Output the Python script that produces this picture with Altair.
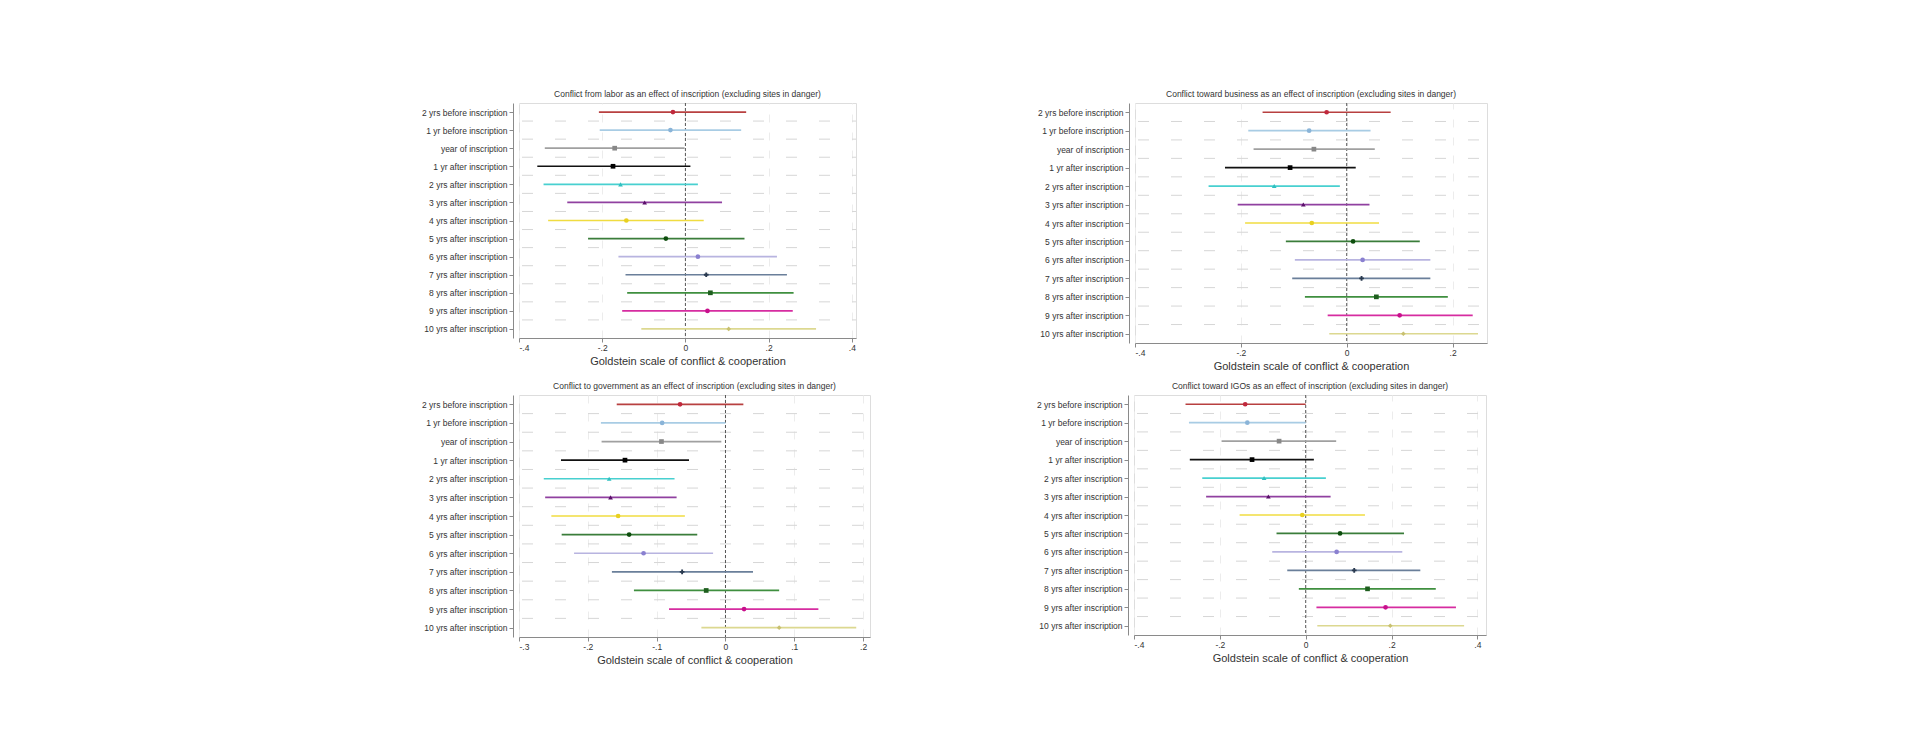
import json
import altair as alt
import pandas as pd

row_labels = [
    "2 yrs before inscription", "1 yr before inscription", "year of inscription",
    "1 yr after inscription", "2 yrs after inscription", "3 yrs after inscription",
    "4 yrs after inscription", "5 yrs after inscription", "6 yrs after inscription",
    "7 yrs after inscription", "8 yrs after inscription", "9 yrs after inscription",
    "10 yrs after inscription",
]

# Panel 1: conflict from labor
labor_est = [-0.030, -0.036, -0.170, -0.174, -0.156, -0.098, -0.142, -0.047, 0.030, 0.050, 0.060, 0.053, 0.104]
labor_lo = [-0.208, -0.206, -0.338, -0.356, -0.341, -0.284, -0.330, -0.234, -0.161, -0.144, -0.140, -0.152, -0.106]
labor_hi = [0.146, 0.134, -0.002, 0.012, 0.030, 0.088, 0.044, 0.142, 0.220, 0.244, 0.260, 0.258, 0.314]

# Panel 2: conflict toward business
business_est = [-0.038, -0.071, -0.062, -0.107, -0.137, -0.082, -0.066, 0.012, 0.030, 0.028, 0.056, 0.100, 0.107]
business_lo = [-0.159, -0.186, -0.176, -0.230, -0.261, -0.206, -0.192, -0.115, -0.098, -0.103, -0.079, -0.036, -0.033]
business_hi = [0.083, 0.045, 0.053, 0.017, -0.013, 0.043, 0.061, 0.138, 0.158, 0.158, 0.191, 0.238, 0.248]

# Panel 3: conflict to government
gov_est = [-0.066, -0.092, -0.093, -0.146, -0.169, -0.167, -0.156, -0.140, -0.119, -0.063, -0.028, 0.027, 0.078]
gov_lo = [-0.158, -0.181, -0.180, -0.239, -0.264, -0.262, -0.253, -0.238, -0.220, -0.165, -0.133, -0.082, -0.035]
gov_hi = [0.026, 0.000, -0.006, -0.053, -0.074, -0.071, -0.059, -0.041, -0.018, 0.040, 0.078, 0.135, 0.190]

# Panel 4: conflict toward IGOs
igo_est = [-0.141, -0.136, -0.062, -0.125, -0.097, -0.087, -0.008, 0.080, 0.072, 0.113, 0.144, 0.186, 0.197]
igo_lo = [-0.280, -0.272, -0.196, -0.270, -0.241, -0.232, -0.154, -0.068, -0.078, -0.043, -0.016, 0.025, 0.027]
igo_hi = [0.000, 0.000, 0.071, 0.019, 0.047, 0.058, 0.138, 0.229, 0.225, 0.267, 0.303, 0.350, 0.369]

titles = [
    "Conflict from labor as an effect of inscription (excluding sites in danger)",
    "Conflict toward business as an effect of inscription (excluding sites in danger)",
    "Conflict to government as an effect of inscription (excluding sites in danger)",
    "Conflict toward IGOs as an effect of inscription (excluding sites in danger)",
]
x_title = "Goldstein scale of conflict & cooperation"

ticks_a = [-0.4, -0.2, 0, 0.2, 0.4]
labels_a = ["-.4", "-.2", "0", ".2", ".4"]
ticks_b = [-0.4, -0.2, 0, 0.2]
labels_b = ["-.4", "-.2", "0", ".2"]
ticks_c = [-0.3, -0.2, -0.1, 0, 0.1, 0.2]
labels_c = ["-.3", "-.2", "-.1", "0", ".1", ".2"]

# styles per row
line_colors = ["#b84040", "#a8cce4", "#a0a0a0", "#111111", "#48d0d0", "#9040a0", "#f0dc40",
               "#3a7d3a", "#b8b4e0", "#6a7f9a", "#3f8f3f", "#d62ca0", "#dcd890"]
point_colors = ["#c0283c", "#8ab4d8", "#888888", "#000000", "#30c0c0", "#5a0f6a", "#e8d020",
                "#0d4d0d", "#8a80d0", "#2a3a50", "#1e5e1e", "#c8108c", "#c8c070"]
point_shapes = ["circle", "circle", "square", "square", "triangle-up", "triangle-up", "circle",
                "circle", "circle", "cross", "square", "circle", "diamond"]
point_sizes = [22, 22, 22, 38, 22, 36, 32, 36, 48, 16, 24, 32, 20]

FONT = "Liberation Sans"
TXT = "#333333"


def panel(title, est, lo, hi, xdom, xticks, xlabels, w, h):
    df = pd.DataFrame({"row": list(range(len(row_labels))), "label": row_labels,
                       "est": est, "lo": lo, "hi": hi})
    ysc = alt.Scale(domain=[-0.5, len(row_labels) - 0.5], reverse=True, nice=False, zero=False)
    xsc = alt.Scale(domain=xdom, nice=False, zero=False)
    yax = alt.Axis(values=list(range(len(row_labels))),
                   labelExpr=f"{json.dumps(row_labels)}[datum.value]",
                   grid=False, title=None, offset=6, tickSize=4, labelPadding=2,
                   domainColor="#8a8a8a", tickColor="#8a8a8a", labelFontSize=8.5,
                   labelColor=TXT, labelFont=FONT)
    xax = alt.Axis(values=xticks,
                   labelExpr=f"{json.dumps(xlabels)}[indexof({json.dumps(xticks)}, datum.value)]",
                   title=x_title, titleFontSize=11, titleFontWeight="normal", titleColor=TXT,
                   titleFont=FONT, titlePadding=4,
                   grid=True, gridColor="#ececec", gridDash=[8, 10], gridWidth=1,
                   tickSize=4, labelPadding=1, domainColor="#8a8a8a", tickColor="#8a8a8a",
                   labelFontSize=8.5, labelColor=TXT, labelFont=FONT)
    base = alt.Chart(df)
    grid_h = base.transform_filter(f"datum.row < {len(row_labels) - 1}").transform_calculate(
        mid="datum.row + 0.5").mark_rule(color="#d6d6d6", strokeDash=[11, 22], strokeWidth=1).encode(
        y=alt.Y("mid:Q", scale=ysc, axis=yax), x=alt.value(3), x2=alt.value(w))
    zero = alt.Chart(pd.DataFrame({"ref": [0]})).mark_rule(
        color="#555555", strokeDash=[3, 2], strokeWidth=1).encode(
        x=alt.X("ref:Q", scale=xsc, axis=xax), y=alt.value(0), y2=alt.value(h))
    ci = base.mark_rule(strokeWidth=1.7).encode(
        x=alt.X("lo:Q", scale=xsc, axis=xax), x2="hi:Q",
        y=alt.Y("row:Q", scale=ysc, axis=yax),
        stroke=alt.Stroke("label:N", scale=alt.Scale(domain=row_labels, range=line_colors), legend=None))
    pts = base.mark_point(filled=True, opacity=1).encode(
        x=alt.X("est:Q", scale=xsc, axis=xax),
        y=alt.Y("row:Q", scale=ysc, axis=yax),
        fill=alt.Fill("label:N", scale=alt.Scale(domain=row_labels, range=point_colors), legend=None),
        shape=alt.Shape("label:N", scale=alt.Scale(domain=row_labels, range=point_shapes), legend=None),
        size=alt.Size("label:N", scale=alt.Scale(domain=row_labels, range=point_sizes), legend=None))
    return alt.layer(grid_h, zero, ci, pts).properties(
        width=w, height=h,
        title=alt.TitleParams(title, fontSize=8.5, fontWeight="normal", color=TXT, font=FONT,
                              anchor="middle", offset=4))


p1 = panel(titles[0], labor_est, labor_lo, labor_hi, [-0.4, 0.41], ticks_a, labels_a, 337, 235)
p2 = panel(titles[1], business_est, business_lo, business_hi, [-0.4, 0.265], ticks_b, labels_b, 352, 240)
p3 = panel(titles[2], gov_est, gov_lo, gov_hi, [-0.3, 0.21], ticks_c, labels_c, 351, 242)
p4 = panel(titles[3], igo_est, igo_lo, igo_hi, [-0.4, 0.42], ticks_a, labels_a, 352, 240)

chart = alt.vconcat(
    alt.hconcat(p1, p2, spacing=179),
    alt.hconcat(p3, p4, spacing=164),
    spacing=9,
).properties(
    padding={"left": 412, "top": 81, "right": 5, "bottom": 5},
    background="white",
).configure_view(stroke=None).configure(font=FONT)

chart.save("out.html", embed_options={"renderer": "svg", "actions": False})
